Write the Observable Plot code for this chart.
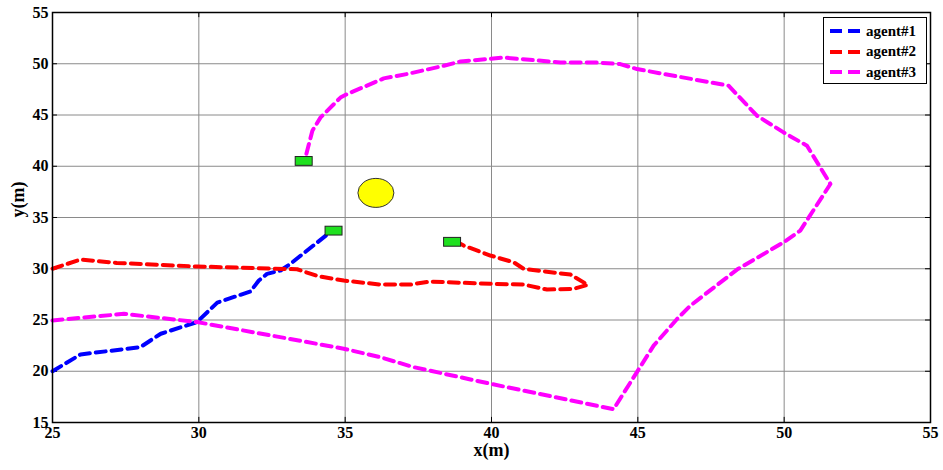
<!DOCTYPE html>
<html>
<head>
<meta charset="utf-8">
<script src="https://cdn.jsdelivr.net/npm/d3@7"></script>
<script src="https://cdn.jsdelivr.net/npm/@observablehq/plot@0.6"></script>
<style>
  html, body { margin: 0; padding: 0; background: #fff; }
  #wrap { position: relative; width: 943px; height: 470px; }
  #wrap svg text { font-family: "Liberation Serif", "Times New Roman", Times, "DejaVu Serif", serif !important; font-weight: bold; }
  #legend { position: absolute; left: 823px; top: 17px; width: 104px; height: 67px; box-sizing: border-box;
    border: 1px solid #000; background: #fff; font-family: "Liberation Serif", "Times New Roman", Times, "DejaVu Serif", serif; font-weight: bold; font-size: 15px; }
  #legend .row { position: absolute; left: 6px; height: 20px; display: flex; align-items: center; }
  #legend .row span { margin-left: 6px; }
</style>
</head>
<body>
<div id="wrap"></div>
<script>
// ---- data ----
const xTicks = [25, 30, 35, 40, 45, 50, 55];
const yTicks = [15, 20, 25, 30, 35, 40, 45, 50, 55];
const seriesNames = ["agent#1", "agent#2", "agent#3"];
const seriesColors = ["#0000ff", "#ff0000", "#ff00ff"];

const agent1X = [25, 25.96, 28.0, 28.7, 29.94, 30.63, 31.76, 32.05, 32.33, 32.79, 33.13, 34.38, 34.55];
const agent1Y = [20, 21.64, 22.35, 23.66, 24.8, 26.7, 27.78, 28.85, 29.5, 29.83, 30.48, 33.33, 33.6];

const agent2X = [25, 25.96, 27.2, 29.94, 33.36, 34.04, 34.95, 36.2, 37.23, 37.91, 39.96, 41.1, 41.9, 42.81, 43.29, 42.7, 41.1, 40.76, 39.96, 39.05, 38.9];
const agent2Y = [30, 30.9, 30.57, 30.22, 29.95, 29.3, 28.85, 28.46, 28.46, 28.75, 28.53, 28.46, 27.97, 28.04, 28.43, 29.43, 29.99, 30.63, 31.29, 32.26, 32.5];

const agent3X = [25, 27.44, 29.94, 34.95, 36.2, 37.34, 39.96, 44.17, 44.97, 45.54, 46.34, 46.8, 48.39, 49.98, 50.55, 51.58, 50.78, 49.98, 49.07, 48.1, 44.97, 44.4, 43.49, 42.36, 40.42, 38.94, 38.37, 37.12, 36.32, 35.07, 34.84, 34.16, 33.88, 33.65];
const agent3Y = [24.95, 25.6, 24.8, 22.2, 21.37, 20.4, 18.78, 16.3, 19.92, 22.5, 25.1, 26.41, 29.92, 32.58, 33.72, 38.27, 42.0, 43.3, 44.93, 47.86, 49.48, 49.97, 50.13, 50.13, 50.6, 50.22, 49.8, 49.0, 48.57, 47.05, 46.7, 44.77, 43.47, 40.94];

const boxX = [33.6, 34.62, 38.67];
const boxY = [40.47, 33.67, 32.58];

const obstacleX = [36.05];
const obstacleY = [37.4];

// ---- build tables ----
const toPts = (xs, ys, name) => xs.map((x, i) => ({x, y: ys[i], name}));
const paths = [toPts(agent1X, agent1Y, seriesNames[0]), toPts(agent2X, agent2Y, seriesNames[1]), toPts(agent3X, agent3Y, seriesNames[2])];
const boxes = boxX.map((x, i) => ({x, y: boxY[i]}));
const obstacles = obstacleX.map((x, i) => ({x, y: obstacleY[i]}));

const font = '"Liberation Serif", "Times New Roman", Times, serif';

const chart = Plot.plot({
  width: 943, height: 470,
  marginLeft: 52, marginRight: 13, marginTop: 12, marginBottom: 48,
  style: { fontFamily: font, fontWeight: "bold", fontSize: "16px", color: "#000", background: "#fff" },
  x: { domain: [25, 55], ticks: xTicks, tickSize: 0, tickPadding: 4, label: null },
  y: { domain: [15, 55], ticks: yTicks, tickSize: 0, tickPadding: 4, label: null },
  marks: [
    Plot.ruleX(xTicks, { stroke: "#8a8a8a", strokeWidth: 1 }),
    Plot.ruleY(yTicks, { stroke: "#8a8a8a", strokeWidth: 1 }),
    // inward ticks
    Plot.ruleX(xTicks, { x: d => d, y1: 15, y2: 15.5, stroke: "#000" }),
    Plot.ruleX(xTicks, { x: d => d, y1: 55, y2: 54.5, stroke: "#000" }),
    Plot.ruleY(yTicks, { y: d => d, x1: 25, x2: 25.17, stroke: "#000" }),
    Plot.ruleY(yTicks, { y: d => d, x1: 55, x2: 54.83, stroke: "#000" }),
    ...paths.map((p, i) => Plot.line(p, { x: "x", y: "y", stroke: seriesColors[i], strokeWidth: 4, strokeDasharray: "10,6", strokeLinejoin: "round" })),
    Plot.rect(boxes, { x1: d => d.x - 0.29, x2: d => d.x + 0.29, y1: d => d.y - 0.43, y2: d => d.y + 0.43, fill: "#1fe01f", stroke: "#222", strokeWidth: 1 }),
    Plot.dot(obstacles, { x: "x", y: "y", r: 16, fill: "yellow", stroke: "#333", strokeWidth: 1 }),
    Plot.frame({ stroke: "#000", strokeWidth: 1.5 }),
    Plot.text(["x(m)"], { frameAnchor: "bottom", dy: 33, fontSize: 18, fontWeight: "bold" }),
    Plot.text(["y(m)"], { frameAnchor: "left", dx: -34, rotate: -90, fontSize: 18, fontWeight: "bold" })
  ]
});

// turn the obstacle circle into an ellipse, as in the original (unequal axis scales)
chart.querySelectorAll("circle").forEach(c => {
  const cx = c.getAttribute("cx"), cy = c.getAttribute("cy");
  const e = document.createElementNS("http://www.w3.org/2000/svg", "ellipse");
  e.setAttribute("cx", cx); e.setAttribute("cy", cy);
  e.setAttribute("rx", 18); e.setAttribute("ry", 14.5);
  if (c.getAttribute("transform")) e.setAttribute("transform", c.getAttribute("transform"));
  c.replaceWith(e);
});

const wrap = document.getElementById("wrap");
wrap.appendChild(chart);

// legend
const legend = document.createElement("div");
legend.id = "legend";
seriesNames.forEach((name, i) => {
  const row = document.createElement("div");
  row.className = "row";
  row.style.top = (3 + i * 20.5) + "px";
  row.innerHTML = `<svg width="30" height="8"><line x1="0" y1="4" x2="30" y2="4" stroke="${seriesColors[i]}" stroke-width="4" stroke-dasharray="12,6"/></svg><span>${name}</span>`;
  legend.appendChild(row);
});
wrap.appendChild(legend);
</script>
</body>
</html>
